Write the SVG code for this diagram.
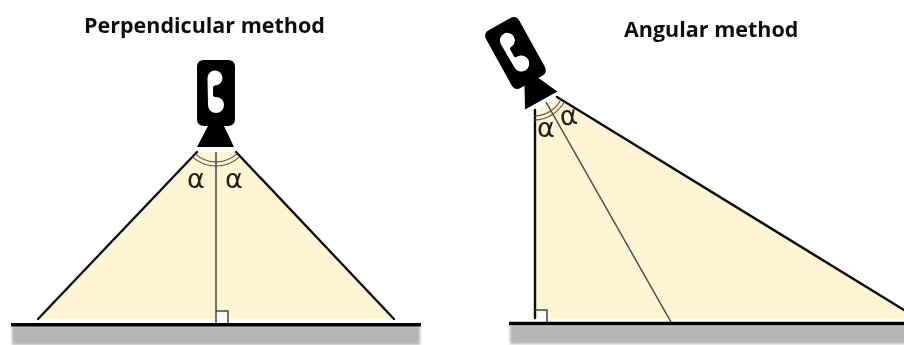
<svg xmlns="http://www.w3.org/2000/svg" width="904" height="345" viewBox="0 0 904 345">
<style>
.title{font-family:"Open Sans","Liberation Sans",sans-serif;font-weight:700;font-size:21.500px;fill:#111}
.alpha{font-family:"DejaVu Sans","Liberation Sans",sans-serif;font-size:27px;fill:#222}
.fov{fill:#fff4d4;stroke:none}
.edge{stroke:#111;stroke-width:2.4;fill:none;stroke-linecap:round}
.thin{stroke:#444;stroke-width:1.500;fill:none}
.arc{stroke:#555;stroke-width:1.100;fill:none}
.ground{stroke:#000;stroke-width:3.400;fill:none}
.shadow{fill:#b4b4b4;filter:url(#soft)}
</style>
<defs>
<filter id="soft" x="-5%" y="-30%" width="110%" height="160%"><feGaussianBlur stdDeviation="1.800"/></filter>
<filter id="photo" x="0" y="0" width="100%" height="100%"><feGaussianBlur stdDeviation="0.400"/></filter>
<g id="camera">
<path fill-rule="evenodd" d="M-12 -33H12Q19 -33 19 -26V26Q19 33 12 33H8L18 54H-19L-8 33H-12Q-19 33 -19 26V-26Q-19 -33 -12 -33ZM-8.500 -15A7.500 7.500 0 1 1 -1 -7.500Q-3 -7.500 -3 -5V2Q-3 4 0 4A8 8 0 1 1 -8 12Z" fill="#000"/>
</g>
</defs>
<g filter="url(#photo)">
<g id="shadows">
<rect class="shadow" x="12" y="326" width="408" height="19"/>
<rect class="shadow" x="510" y="325" width="400" height="19"/>
</g>

<g id="perpendicular-field">
<polygon class="fov" points="38,319 197,152 236,152 394,319"/>
<rect x="216" y="311" width="12" height="8" fill="#fdfbf0"/>
</g>
<g id="angular-field">
<polygon class="fov" points="535,112 557,97 904,310 904,319 535,319"/>
<rect x="535" y="310" width="12" height="9" fill="#fdfbf0"/>
</g>

<g id="connectors">
<path class="edge" d="M38 319L197 152"/>
<path class="edge" d="M394 319L236 152"/>
<path class="thin" d="M216 152V323"/>
<path class="thin" d="M216 311H228V323"/>
<path class="arc" d="M195.200 153.900A31 31 0 0 0 236.800 153.900"/>
<path class="arc" d="M192.400 156.800A35 35 0 0 0 239.600 156.800"/>
<path class="edge" d="M535 110V318"/>
<path class="edge" d="M557 97L904 310"/>
<path class="thin" d="M546 102L671 322"/>
<path class="thin" d="M535 310H547V322"/>
<path class="arc" d="M535 116A31 31 0 0 0 561 99.500"/>
<path class="arc" d="M535 120A35 35 0 0 0 564.500 101.600"/>
<path class="ground" d="M11 324.700H421"/>
<path class="ground" d="M509 323.500H904"/>
</g>

<g id="perpendicular-camera"><use href="#camera" transform="translate(216 93)"/></g>
<g id="angular-camera"><use href="#camera" transform="translate(515.500 53) rotate(-29)"/></g>

<g id="perpendicular-labels">
<text class="title" x="84" y="32.500">Perpendicular method</text>
<text class="alpha" x="187" y="188">α</text>
<text class="alpha" x="225" y="188">α</text>
</g>
<g id="angular-labels">
<text class="title" x="624" y="36.500">Angular method</text>
<text class="alpha" x="537" y="137">α</text>
<text class="alpha" transform="rotate(-8 568 118)" x="560" y="125">α</text>
</g>
</g>
</svg>
